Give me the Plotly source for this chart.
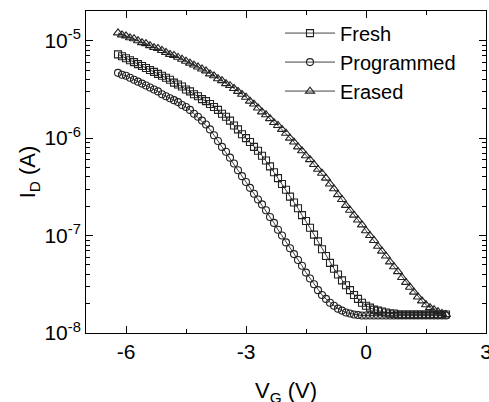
import plotly.graph_objects as go

# Gate voltage (V), 0.1 V steps from -6.2 to 2.0
vg = [round(-6.2 + 0.1 * i, 1) for i in range(83)]

# log10 of drain current (A)
log_id_fresh = [
    -5.14, -5.16, -5.18, -5.20, -5.22, -5.24, -5.26, -5.28, -5.30, -5.32,
    -5.34, -5.36, -5.38, -5.40, -5.43, -5.45, -5.47, -5.50, -5.52, -5.55,
    -5.57, -5.60, -5.62, -5.65, -5.68, -5.71, -5.75, -5.78, -5.82, -5.87,
    -5.91, -5.96, -6.00, -6.04, -6.09, -6.13, -6.18, -6.23, -6.29, -6.35,
    -6.41, -6.47, -6.53, -6.60, -6.66, -6.72, -6.79, -6.85, -6.92, -6.99,
    -7.06, -7.14, -7.21, -7.28, -7.34, -7.40, -7.46, -7.51, -7.56, -7.61,
    -7.65, -7.69, -7.72, -7.74, -7.76, -7.77, -7.78, -7.79, -7.80, -7.80,
    -7.81, -7.81, -7.81, -7.81, -7.81, -7.81, -7.81, -7.81, -7.81, -7.81,
    -7.81, -7.81, -7.81,
]
log_id_programmed = [
    -5.33, -5.35, -5.36, -5.38, -5.40, -5.42, -5.44, -5.46, -5.48, -5.50,
    -5.52, -5.55, -5.57, -5.59, -5.61, -5.63, -5.66, -5.68, -5.71, -5.75,
    -5.78, -5.82, -5.86, -5.91, -5.97, -6.03, -6.09, -6.14, -6.20, -6.26,
    -6.33, -6.39, -6.45, -6.51, -6.57, -6.63, -6.68, -6.74, -6.81, -6.87,
    -6.94, -7.00, -7.07, -7.13, -7.19, -7.25, -7.31, -7.38, -7.44, -7.50,
    -7.56, -7.61, -7.65, -7.69, -7.72, -7.75, -7.77, -7.79, -7.80, -7.81,
    -7.815, -7.82, -7.82, -7.82, -7.82, -7.82, -7.82, -7.82, -7.82, -7.82,
    -7.82, -7.82, -7.82, -7.82, -7.82, -7.82, -7.82, -7.82, -7.82, -7.82,
    -7.82, -7.82, -7.82,
]
log_id_erased = [
    -4.92, -4.94, -4.95, -4.97, -4.98, -5.00, -5.02, -5.03, -5.05, -5.07,
    -5.08, -5.10, -5.12, -5.14, -5.15, -5.17, -5.19, -5.21, -5.23, -5.25,
    -5.27, -5.29, -5.31, -5.34, -5.36, -5.39, -5.41, -5.44, -5.46, -5.49,
    -5.52, -5.55, -5.58, -5.62, -5.65, -5.69, -5.73, -5.76, -5.80, -5.84,
    -5.87, -5.91, -5.95, -6.00, -6.04, -6.09, -6.13, -6.18, -6.22, -6.27,
    -6.32, -6.36, -6.41, -6.47, -6.52, -6.58, -6.63, -6.69, -6.74, -6.79,
    -6.84, -6.89, -6.95, -7.00, -7.05, -7.11, -7.16, -7.21, -7.27, -7.32,
    -7.37, -7.43, -7.48, -7.53, -7.58, -7.63, -7.67, -7.71, -7.74, -7.76,
    -7.78, -7.80, -7.81,
]

series_names = ["Fresh", "Programmed", "Erased"]
series_logs = [log_id_fresh, log_id_programmed, log_id_erased]
series_symbols = ["square-open", "circle-open", "triangle-up-open"]
series_sizes = [7, 7, 8]

x_tickvals = [-6, -3, 0, 3]
x_ticktext = ["-6", "-3", "0", "3"]
y_tickvals = [1e-8, 1e-7, 1e-6, 1e-5]
y_ticktext = ["10<sup>-8</sup>", "10<sup>-7</sup>", "10<sup>-6</sup>", "10<sup>-5</sup>"]
y_minor = [m * 10.0 ** e for e in range(-8, -4) for m in range(2, 10)]
x_title = "V<sub>G</sub> (V)"
y_title = "I<sub>D</sub> (A)"

FONT = "Arial, Liberation Sans, Helvetica, sans-serif"

fig = go.Figure()
for name, logs, sym, sz in zip(series_names, series_logs, series_symbols, series_sizes):
    fig.add_trace(go.Scatter(
        x=vg,
        y=[10 ** v for v in logs],
        mode="lines+markers",
        name=name,
        line=dict(color="#444444", width=1),
        marker=dict(symbol=sym, size=sz, color="#222222",
                    line=dict(color="#222222", width=1.1)),
    ))

fig.update_layout(
    width=489, height=402,
    margin=dict(l=86, r=3, t=11, b=69, autoexpand=False),
    paper_bgcolor="white", plot_bgcolor="white",
    font=dict(family=FONT, size=21, color="black"),
    showlegend=True,
    legend=dict(
        x=0.485, y=0.992, xanchor="left", yanchor="top",
        bgcolor="rgba(0,0,0,0)", borderwidth=0,
        font=dict(family=FONT, size=20, color="black"),
        tracegroupgap=0, itemwidth=50,
    ),
    annotations=[dict(
        text=x_title, xref="paper", yref="paper", x=0.5, y=-0.133,
        xanchor="center", yanchor="top", showarrow=False,
        font=dict(family=FONT, size=22, color="black"),
    )],
)
fig.update_xaxes(
    range=[-7, 3], automargin=False, ticklabeloverflow="allow",
    tickmode="array", tickvals=x_tickvals, ticktext=x_ticktext,
    ticks="inside", ticklen=7, tickwidth=1, tickcolor="black",
    minor=dict(tickmode="array", tickvals=[-4.5, -1.5, 1.5], ticks="inside",
               ticklen=4, tickwidth=1, tickcolor="black", showgrid=False),
    showline=True, linecolor="black", linewidth=1, mirror="allticks",
    showgrid=False, zeroline=False,
    tickfont=dict(family=FONT, size=21),
)
fig.update_yaxes(
    type="log", range=[-8, -4.695], automargin=False, ticklabeloverflow="allow",
    tickmode="array", tickvals=y_tickvals, ticktext=y_ticktext,
    ticks="inside", ticklen=7, tickwidth=1, tickcolor="black",
    minor=dict(tickmode="array", tickvals=y_minor, ticks="inside",
               ticklen=4, tickwidth=1, tickcolor="black", showgrid=False),
    showline=True, linecolor="black", linewidth=1, mirror="allticks",
    showgrid=False, zeroline=False,
    tickfont=dict(family=FONT, size=21),
    title=dict(text=y_title, font=dict(family=FONT, size=22), standoff=2),
)

fig.write_html("out.html", config={"displayModeBar": False},
               post_script="document.body.style.margin='0';")
